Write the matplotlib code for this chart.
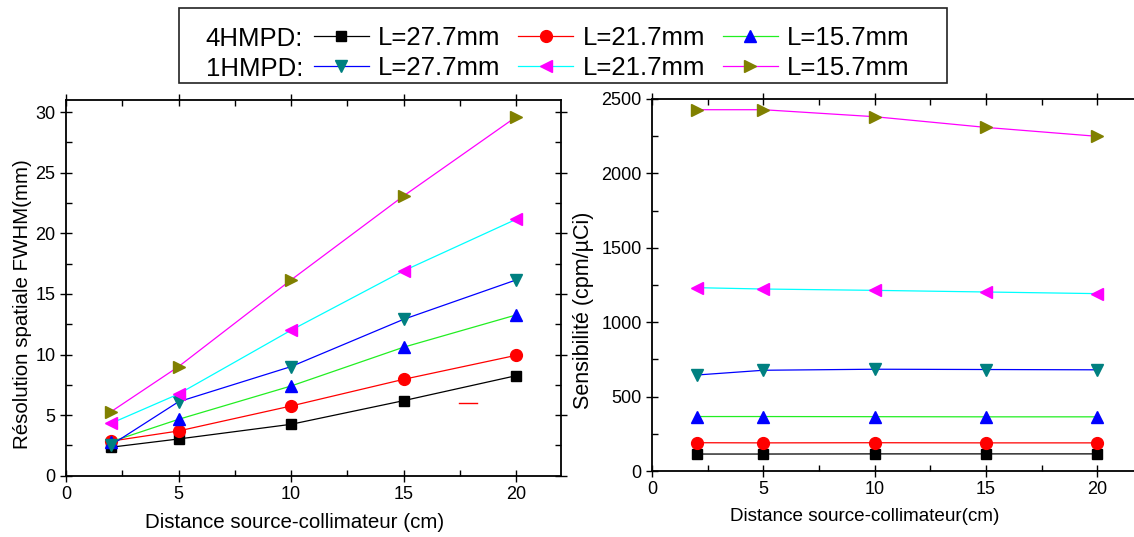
import matplotlib
matplotlib.use("Agg")
import matplotlib.pyplot as plt
from matplotlib.lines import Line2D
from matplotlib.patches import Rectangle
from matplotlib.ticker import MultipleLocator

plt.rcParams['font.family'] = ['Liberation Sans', 'DejaVu Sans']

# Source-collimator distance (cm)
distance = [2, 5, 10, 15, 20]

# Spatial resolution FWHM (mm)
res_4h_277 = [2.35, 3.03, 4.24, 6.19, 8.25]
res_4h_217 = [2.85, 3.69, 5.75, 7.95, 9.93]
res_4h_157 = [2.80, 4.65, 7.40, 10.6, 13.26]
res_1h_277 = [2.53, 6.10, 9.00, 12.9, 16.15]
res_1h_217 = [4.32, 6.74, 12.0, 16.9, 21.15]
res_1h_157 = [5.28, 9.00, 16.15, 23.08, 29.6]

# Sensitivity (cpm/uCi)
sens_4h_277 = [114, 114, 115, 115, 115]
sens_4h_217 = [190, 189, 190, 189, 189]
sens_4h_157 = [366, 366, 365, 364, 364]
sens_1h_277 = [645, 677, 684, 682, 680]
sens_1h_217 = [1232, 1223, 1214, 1203, 1192]
sens_1h_157 = [2428, 2428, 2381, 2309, 2249]

labels = ["L=27.7mm", "L=21.7mm", "L=15.7mm"]

# (marker, marker colour, line colour, marker size) for each curve
styles = [
    ("s", "#000000", "#000000", 7),
    ("o", "#ff0000", "#ff0000", 8.5),
    ("^", "#0000ff", "#22ee22", 9),
    ("v", "#008080", "#0000ff", 9),
    ("<", "#ff00ff", "#00ffff", 9),
    (">", "#808000", "#ff00ff", 9),
]

res_series = [res_4h_277, res_4h_217, res_4h_157, res_1h_277, res_1h_217, res_1h_157]
sens_series = [sens_4h_277, sens_4h_217, sens_4h_157, sens_1h_277, sens_1h_217, sens_1h_157]

fig = plt.figure(figsize=(11.34, 5.37), dpi=100)
W, H = 1134, 537

def px_axes(x0, x1, ytop, ybot):
    return fig.add_axes([x0 / W, 1 - ybot / H, (x1 - x0) / W, (ybot - ytop) / H])

L1 = (66, 561, 100, 475.7)
L2 = (652, 1142, 99, 471)
ax1 = px_axes(*L1)
ax2 = px_axes(*L2)

def draw(ax, series):
    lines = []
    for vals, (m, mc, lc, ms) in zip(series, styles):
        ln, = ax.plot(distance, vals, color=lc, lw=0.9, marker=m, markersize=ms,
                      markerfacecolor=mc, markeredgecolor=mc, zorder=3)
        lines.append(ln)
    return lines

lines = draw(ax1, res_series)
draw(ax2, sens_series)

for ax in (ax1, ax2):
    ax.set_xlim(0, 22)
    ax.xaxis.set_major_locator(MultipleLocator(5))
    ax.xaxis.set_minor_locator(MultipleLocator(2.5))
    ax.tick_params(which='major', direction='inout', length=9, width=1,
                   top=True, right=True, labelsize=13, pad=3)
    ax.tick_params(which='minor', direction='in', length=4, width=1,
                   top=True, right=True)
    for sp in ax.spines.values():
        sp.set_linewidth(1.3)

ax1.set_ylim(0, 31)
ax1.yaxis.set_major_locator(MultipleLocator(5))
ax1.yaxis.set_minor_locator(MultipleLocator(2.5))
ax2.set_ylim(0, 2500)
ax2.yaxis.set_major_locator(MultipleLocator(500))
ax2.yaxis.set_minor_locator(MultipleLocator(250))

ax1.set_xlabel("Distance source-collimateur (cm)", fontsize=14.8)
ax1.set_ylabel("Résolution spatiale FWHM(mm)", fontsize=14.8)
ax2.set_xlabel("Distance source-collimateur(cm)", fontsize=13.6)
ax2.set_ylabel("Sensibilité (cpm/µCi)", fontsize=15.5)

def label_xy(box, px, py):
    x0, x1, yt, yb = box
    return (px - x0) / (x1 - x0), (yb - py) / (yb - yt)

ax1.xaxis.set_label_coords(*label_xy(L1, 295, 513))
ax1.yaxis.set_label_coords(*label_xy(L1, 32, 304))
ax2.xaxis.set_label_coords(*label_xy(L2, 865, 508))
ax2.yaxis.set_label_coords(*label_xy(L2, 594, 310))

# short red stroke inside the resolution panel
ax1.add_line(Line2D([0.794, 0.830], [0.193, 0.193], transform=ax1.transAxes,
                    color="#ff0000", lw=1))

# legend block above the panels
fig.add_artist(Rectangle((179 / W, 1 - 83 / H), (947 - 179) / W, 75 / H,
                         transform=fig.transFigure, fill=False, lw=1.2,
                         edgecolor="#222222"))
order = [0, 3, 1, 4, 2, 5]
fs = 18.5
fig.legend([lines[i] for i in order], [labels[i % 3] for i in order],
           ncol=3, loc='upper left', bbox_to_anchor=(314 / W, 1 - 26 / H),
           frameon=False, borderpad=0, borderaxespad=0, fontsize=fs,
           handlelength=2.14, handletextpad=0.35, columnspacing=0.70,
           labelspacing=0.24, numpoints=1)
fig.text(303 / W, 1 - 46.5 / H, "4HMPD:", ha='right', va='baseline', fontsize=fs)
fig.text(303 / W, 1 - 75.5 / H, "1HMPD:", ha='right', va='baseline', fontsize=fs)

fig.savefig("out.png", dpi=100)
